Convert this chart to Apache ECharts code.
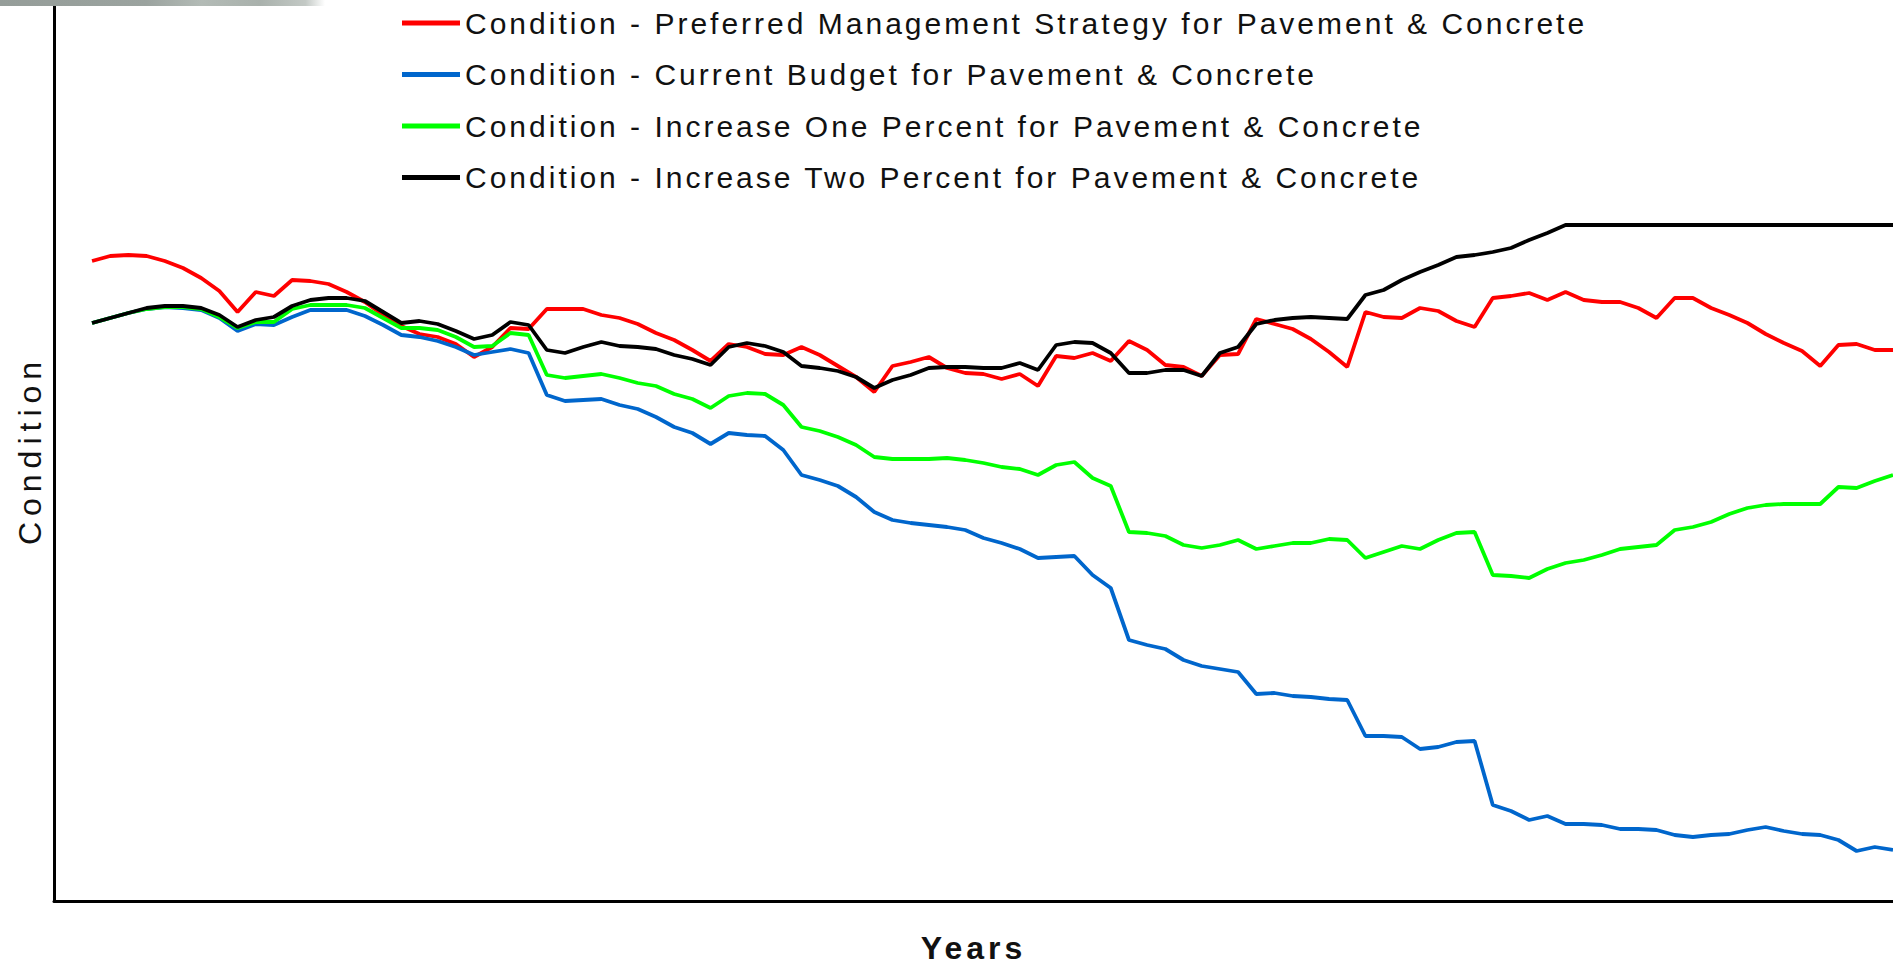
<!DOCTYPE html>
<html>
<head>
<meta charset="utf-8">
<script src="https://cdn.jsdelivr.net/npm/echarts@6/dist/echarts.min.js"></script>
<style>
  html, body { margin: 0; padding: 0; background: #fff; }
  #chart { width: 1893px; height: 973px; }
</style>
</head>
<body>
<div id="chart"></div>
<script>
// Condition readings (arbitrary condition units), one per period
const seriesNames = [
  'Condition - Preferred Management Strategy for Pavement & Concrete',
  'Condition - Current Budget for Pavement & Concrete',
  'Condition - Increase One Percent for Pavement & Concrete',
  'Condition - Increase Two Percent for Pavement & Concrete'
];
const preferred = [640,645,646,645,640,633,623,610,589,609,605,621,620,617,609,599,586,575,567,564,557,544,554,573,572,
592,592,592,586,583,577,568,561,551,540,557,554,547,546,554,546,535,524,509,535,539,544,533,528,527,
522,527,515,545,543,548,540,560,551,536,534,525,546,547,582,577,572,562,549,534,589,584,583,593,590,
580,574,603,605,608,601,609,601,599,599,593,583,603,603,593,586,578,567,558,550,535,556,557,551,551];
const currentBudget = [578,583,588,592,594,593,591,583,570,577,576,584,591,591,591,585,576,566,564,560,554,546,549,552,548,
506,500,501,502,496,492,484,474,468,457,468,466,465,451,426,421,415,404,389,381,378,376,374,371,363,
358,352,343,344,345,326,313,261,256,252,241,235,232,229,207,208,205,204,202,201,165,165,164,152,154,
159,160,96,90,81,85,77,77,76,72,72,71,66,64,66,67,71,74,70,67,66,61,50,54,51];
const increaseOne = [578,583,588,592,594,594,592,584,573,579,579,592,596,596,596,593,583,573,573,571,564,554,555,568,566,
526,523,525,527,523,518,515,507,502,493,505,508,507,496,474,470,464,456,444,442,442,442,443,441,438,
434,432,426,436,439,423,415,369,368,365,356,353,356,361,352,355,358,358,362,361,343,349,355,352,361,
368,369,326,325,323,332,338,341,346,352,354,356,371,374,379,387,393,396,397,397,397,414,413,420,426];
const increaseTwo = [578,583,588,593,595,595,593,586,574,581,584,595,601,603,603,600,589,578,580,577,570,562,566,579,576,
551,548,554,559,555,554,552,546,542,536,554,558,555,549,535,533,530,524,513,521,526,533,534,534,533,
533,538,531,556,559,558,548,528,528,531,531,525,548,554,577,581,583,584,583,582,606,611,621,629,636,
644,646,649,653,661,668,676,676,676,676,676,676,676,676,676,676,676,676,676,676,676,676,676,676,676];
const periods = preferred.map((_, i) => i);
const colors = ['#ff0000', '#0066cc', '#00ff00', '#000000'];

const allValues = [preferred, currentBudget, increaseOne, increaseTwo];
const pairs = arr => arr.map((v, i) => [periods[i], v]);

const chart = echarts.init(document.getElementById('chart'), null, { renderer: 'svg' });
const font = "'Liberation Sans', Arial, sans-serif";

chart.setOption({
  animation: false,
  backgroundColor: '#ffffff',
  grid: { left: 54, right: 0, top: 0, bottom: 72 },
  legend: {
    orient: 'vertical',
    left: 402,
    top: 8,
    padding: 0,
    itemWidth: 58,
    itemHeight: 5,
    itemGap: 21.5,
    icon: 'rect',
    selectedMode: false,
    data: seriesNames,
    textStyle: { fontSize: 30, color: '#111', fontFamily: font }
  },
  xAxis: {
    type: 'value',
    min: -2.09,
    max: 99,
    axisLine: { show: true, onZero: false, lineStyle: { color: '#000', width: 3 } },
    axisTick: { show: false },
    axisLabel: { show: false },
    splitLine: { show: false },
    name: 'Years',
    nameLocation: 'middle',
    nameGap: 31,
    nameTextStyle: { fontSize: 32, fontWeight: 'bold', color: '#111', fontFamily: font }
  },
  yAxis: {
    type: 'value',
    min: 0,
    max: 901,
    axisLine: { show: true, onZero: false, lineStyle: { color: '#000', width: 3 } },
    axisTick: { show: false },
    axisLabel: { show: false },
    splitLine: { show: false },
    name: 'Condition',
    nameLocation: 'middle',
    nameGap: 8,
    nameTextStyle: { fontSize: 32, color: '#111', fontFamily: font }
  },
  graphic: [{
    type: 'rect',
    left: 0, top: 0,
    shape: { width: 325, height: 6 },
    style: {
      fill: {
        type: 'linear', x: 0, y: 0, x2: 1, y2: 0,
        colorStops: [
          { offset: 0, color: '#959d99' },
          { offset: 0.45, color: '#9ba39f' },
          { offset: 0.62, color: '#b3bbb6' },
          { offset: 0.8, color: '#a9b1ac' },
          { offset: 0.94, color: '#c3c9c5' },
          { offset: 1, color: '#ffffff' }
        ]
      }
    },
    z: 100
  }],
  series: seriesNames.map((name, k) => ({
    name: name,
    type: 'line',
    data: pairs(allValues[k]),
    showSymbol: false,
    symbol: 'none',
    color: colors[k],
    lineStyle: { color: colors[k], width: 3.8 },
    silent: true,
    z: 2 + k
  }))
});

function applySpacing() {
  document.querySelectorAll('#chart text').forEach(t => {
    const s = t.textContent;
    if (s === 'Years') t.style.letterSpacing = '4px';
    else if (s === 'Condition') t.style.letterSpacing = '6px';
    else if (s.indexOf('Condition - ') === 0) t.style.letterSpacing = '3px';
  });
}
chart.on('finished', applySpacing);
applySpacing();
setTimeout(applySpacing, 0);
setTimeout(applySpacing, 200);
</script>
</body>
</html>
